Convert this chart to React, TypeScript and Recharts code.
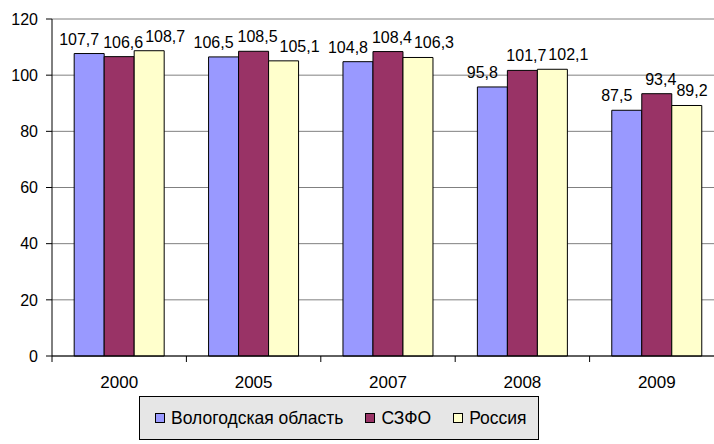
import { Bar, BarChart, CartesianGrid, LabelList, Legend, XAxis, YAxis } from 'recharts';

const years = ['2000', '2005', '2007', '2008', '2009'];
const vologda = [107.7, 106.5, 104.8, 95.8, 87.5];
const szfo = [106.6, 108.5, 108.4, 101.7, 93.4];
const russia = [108.7, 105.1, 106.3, 102.1, 89.2];
const yTicks = [0, 20, 40, 60, 80, 100, 120];

const series = [
  { key: 'vologda', name: 'Вологодская область', color: '#9999FF', dx: -10 },
  { key: 'szfo', name: 'СЗФО', color: '#993366', dx: 4 },
  { key: 'russia', name: 'Россия', color: '#FFFFCC', dx: 16 },
];

const data = years.map((year, i) => ({
  year,
  vologda: vologda[i],
  szfo: szfo[i],
  russia: russia[i],
}));

const FONT = '"Liberation Sans", Arial, sans-serif';
const VISIBLE_W = 714;

const fmt = (v: number) => v.toFixed(1).replace('.', ',');

function valueLabel(dx: number) {
  return (props: any) => {
    const { x, y, width, value } = props;
    const cx = Math.min(Number(x) + Number(width) / 2 + dx, VISIBLE_W - 22);
    return (
      <text x={cx} y={Number(y) - 9} textAnchor="middle" fontSize={16} fontFamily={FONT} fill="#000">
        {fmt(Number(value))}
      </text>
    );
  };
}

function YearTick(props: any) {
  const { x, y, payload } = props;
  const half = payload.offset ?? 0;
  return (
    <g>
      <line x1={x - half} x2={x - half} y1={y - 20} y2={y - 14} stroke="#000" />
      <text x={x} y={y} dy="0.71em" textAnchor="middle" fontSize={17} fontFamily={FONT} fill="#000">
        {payload.value}
      </text>
    </g>
  );
}

function LegendBox() {
  return (
    <div
      style={{
        boxSizing: 'border-box',
        width: 400,
        height: 44,
        border: '1px solid #000',
        background: '#e6e6e6',
        display: 'flex',
        alignItems: 'center',
        paddingLeft: 15,
        fontFamily: FONT,
        fontSize: 17.5,
        color: '#000',
        whiteSpace: 'nowrap',
      }}
    >
      {series.map((s) => (
        <div key={s.key} style={{ display: 'flex', alignItems: 'center', marginRight: 22 }}>
          <span
            style={{
              display: 'inline-block',
              boxSizing: 'border-box',
              width: 10,
              height: 10,
              border: '1px solid #000',
              background: s.color,
              marginRight: 6,
            }}
          />
          <span>{s.name}</span>
        </div>
      ))}
    </div>
  );
}

export default function App() {
  return (
    <div style={{ position: 'absolute', left: 0, top: 0, width: VISIBLE_W, height: 444, overflow: 'hidden', background: '#fff' }}>
      <BarChart
        width={730}
        height={444}
        data={data}
        margin={{ top: 19, right: 6, bottom: 58, left: 0 }}
        barCategoryGap="16.5%"
        barGap={0}
      >
        <CartesianGrid vertical={false} stroke="#808080" />
        <XAxis
          dataKey="year"
          height={30}
          stroke="#000"
          tickLine={false}
          tickSize={5}
          tickMargin={15}
          tick={<YearTick />}
          interval={0}
        />
        <YAxis
          width={52}
          domain={[0, 120]}
          ticks={yTicks}
          stroke="#000"
          tickSize={6}
          tickMargin={8}
          tick={{ fill: '#000', fontSize: 16, fontFamily: FONT }}
          tickLine={{ stroke: '#000' }}
          interval={0}
        />
        <Legend
          layout="horizontal"
          verticalAlign="middle"
          align="center"
          wrapperStyle={{ left: 139, top: 396, width: 400 }}
          content={<LegendBox />}
        />
        {series.map((s) => (
          <Bar
            key={s.key}
            dataKey={s.key}
            name={s.name}
            fill={s.color}
            stroke="#000"
            strokeWidth={1}
            isAnimationActive={false}
          >
            <LabelList dataKey={s.key} content={valueLabel(s.dx)} />
          </Bar>
        ))}
      </BarChart>
    </div>
  );
}
